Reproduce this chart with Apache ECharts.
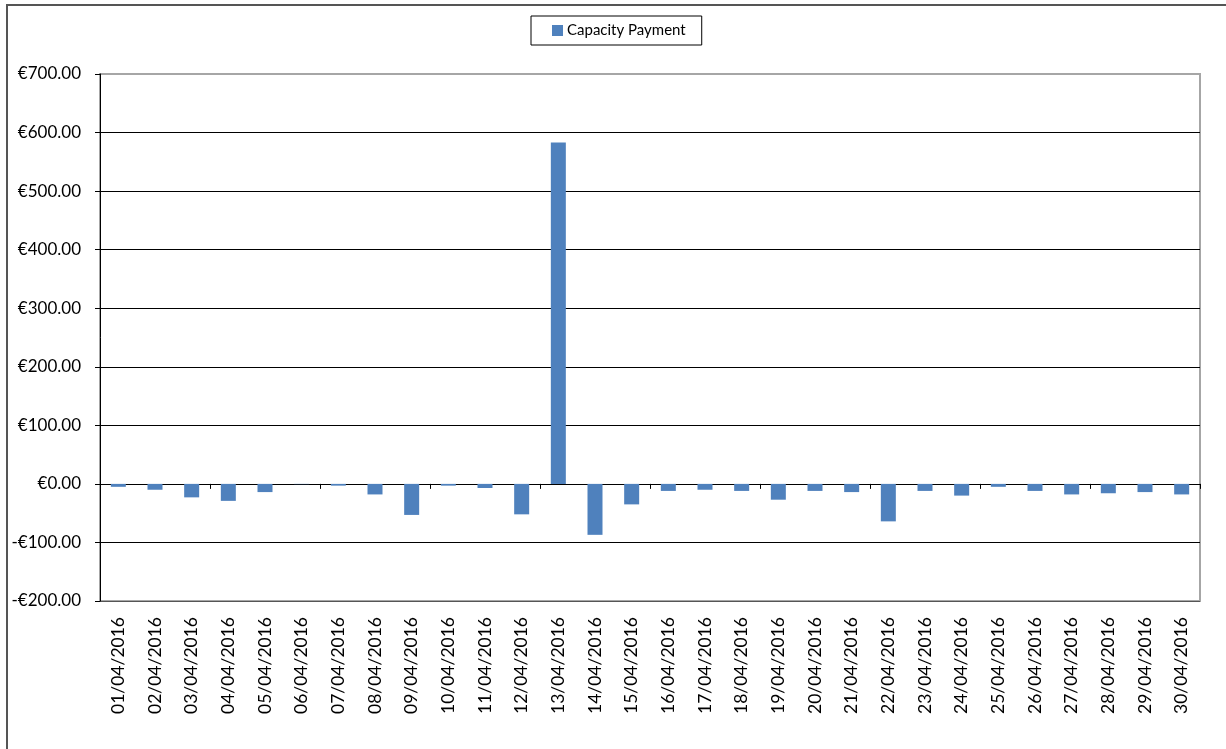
<!DOCTYPE html>
<html>
<head>
<meta charset="utf-8">
<script src="https://cdn.jsdelivr.net/npm/echarts@6/dist/echarts.min.js"></script>
<style>
  html, body { margin: 0; padding: 0; background: #ffffff; }
  #chart { width: 1226px; height: 749px; }
</style>
</head>
<body>
<div id="chart"></div>
<script>
// Daily capacity payment, April 2016
const days = [
  '01/04/2016','02/04/2016','03/04/2016','04/04/2016','05/04/2016','06/04/2016',
  '07/04/2016','08/04/2016','09/04/2016','10/04/2016','11/04/2016','12/04/2016',
  '13/04/2016','14/04/2016','15/04/2016','16/04/2016','17/04/2016','18/04/2016',
  '19/04/2016','20/04/2016','21/04/2016','22/04/2016','23/04/2016','24/04/2016',
  '25/04/2016','26/04/2016','27/04/2016','28/04/2016','29/04/2016','30/04/2016'
];
const capacityPayment = [
  -5, -10, -23, -29, -14, -0.5,
  -3, -18, -53, -3, -7, -52,
  583, -87, -35, -12, -10, -12,
  -27, -12, -14, -64, -12, -20,
  -5, -12, -18, -16, -14, -18
];
const seriesName = 'Capacity Payment';
const yMin = -200, yMax = 700, yStep = 100;

const FONT = 'Lato';

function euro(v) {
  const s = '€' + Math.abs(v).toFixed(2);
  return v < 0 ? '-' + s : s;
}

// split line colours: bottom edge dark grey, inner lines black, top edge light grey
const nLines = Math.round((yMax - yMin) / yStep) + 1;
const splitColors = [];
for (let i = 0; i < nLines; i++) {
  splitColors.push(i === 0 ? '#555555' : (i === nLines - 1 ? '#a6a6a6' : '#000000'));
}

const chart = echarts.init(document.getElementById('chart'), null, { renderer: 'canvas' });
chart.setOption({
  backgroundColor: '#ffffff',
  animation: false,
  textStyle: { fontFamily: FONT, color: '#000' },
  graphic: [{
    type: 'rect',
    shape: { x: 7, y: 5, width: 1400, height: 900 },
    style: { fill: 'none', stroke: '#555555', lineWidth: 2 },
    silent: true,
    z: 100
  }],
  legend: {
    top: 16,
    left: 531,
    data: [seriesName],
    itemWidth: 11,
    itemHeight: 11,
    itemGap: 0,
    icon: 'rect',
    borderColor: '#000',
    borderWidth: 1,
    padding: [7, 16, 7, 21],
    textStyle: { fontFamily: FONT, fontSize: 15, color: '#000', padding: [0, 0, 0, -1] }
  },
  grid: {
    left: 100, top: 74, right: 26, bottom: 148,
    show: true,
    borderColor: '#a6a6a6',
    borderWidth: 2,
    backgroundColor: 'transparent'
  },
  xAxis: [{
    // axis line through zero, with tick marks between days
    type: 'category',
    data: days,
    position: 'bottom',
    axisLine: { onZero: true, lineStyle: { color: '#000', width: 1 } },
    axisTick: { show: true, inside: false, length: 5, alignWithLabel: false, lineStyle: { color: '#000' } },
    axisLabel: { show: false },
    splitLine: { show: false }
  }, {
    // day labels along the bottom of the plot
    type: 'category',
    data: days,
    position: 'bottom',
    axisLine: { show: false, onZero: false },
    axisTick: { show: false },
    axisLabel: {
      show: true,
      interval: 0,
      rotate: 90,
      margin: 16,
      fontFamily: FONT,
      fontSize: 17.5,
      color: '#000'
    },
    splitLine: { show: false }
  }],
  yAxis: {
    type: 'value',
    min: yMin,
    max: yMax,
    interval: yStep,
    axisLine: { show: true, lineStyle: { color: '#000', width: 1 } },
    axisTick: { show: true, inside: false, length: 5, lineStyle: { color: '#000' } },
    axisLabel: {
      formatter: euro,
      margin: 19,
      fontFamily: FONT,
      fontSize: 17,
      color: '#000'
    },
    splitLine: { show: true, lineStyle: { color: splitColors, width: 1 } }
  },
  series: [{
    name: seriesName,
    type: 'bar',
    xAxisIndex: 0,
    data: capacityPayment,
    barWidth: 15,
    itemStyle: { color: '#4f81bd' }
  }]
});
</script>
</body>
</html>
